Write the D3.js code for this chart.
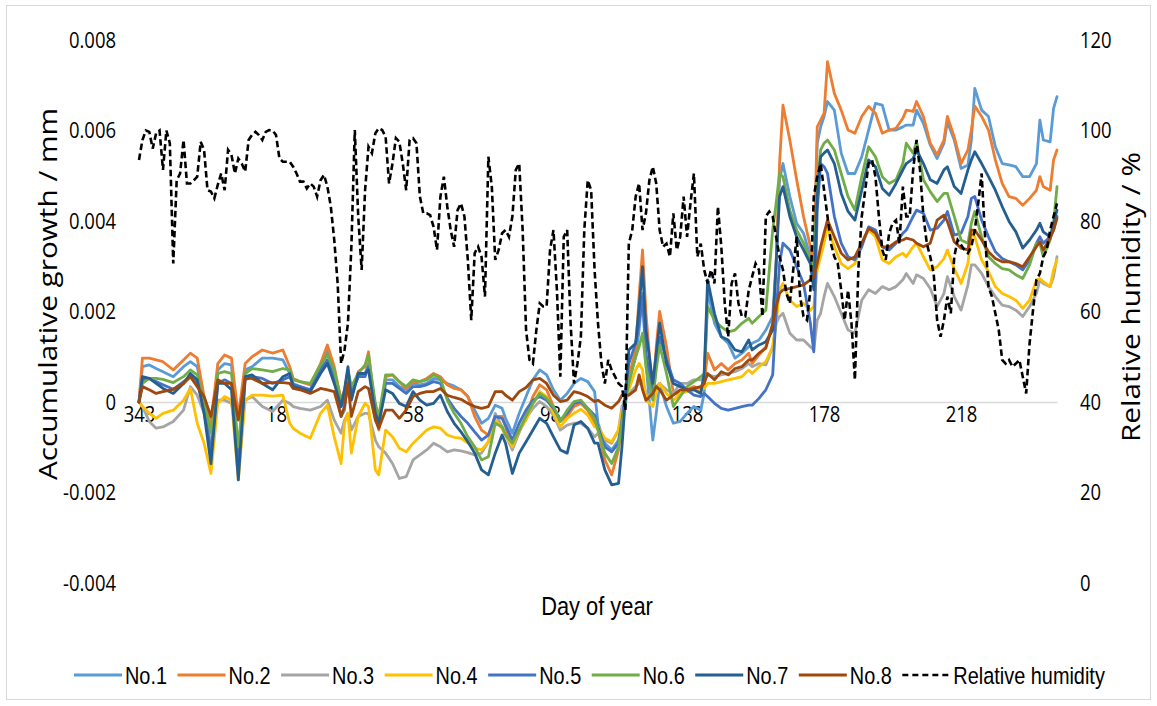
<!DOCTYPE html>
<html>
<head>
<meta charset="utf-8">
<script src="https://cdn.jsdelivr.net/npm/d3@7"></script>
<style>
  html, body { margin: 0; padding: 0; background: #fff; }
  svg { display: block; }
</style>
</head>
<body>
<div id="chart"></div>
<script>
// day of year of each growth reading (the record starts on day 343 and runs into the next year)
const days = [343, 344, 346, 348, 350, 353, 356, 358, 360, 362, 364, 1, 3, 5, 7, 9, 11, 14, 17, 20,
  22, 23, 25, 28, 31, 33, 35, 37, 38, 39, 40, 42, 44, 45, 47, 48, 50, 52, 54, 56, 58, 60, 62, 64, 66,
  68, 70, 72, 74, 76, 78, 80, 82, 84, 85, 87, 89, 91, 93, 95, 97, 99, 101, 103, 105, 107, 109, 111,
  112, 114, 116, 118, 119, 121, 123, 124, 125, 126, 128, 129, 130, 132, 134, 136, 138, 140, 142, 143, 144, 146, 148, 150, 152, 154, 156,
  157, 159, 161, 163, 164, 165, 166, 168, 170, 172, 174, 175, 176, 177, 178, 179, 181, 183, 185, 187, 189, 191, 193, 195, 197, 199, 201,
  202, 204, 205, 207, 209, 211, 213, 214, 216, 218, 220, 221, 222, 224, 226, 228, 230, 232, 234, 236, 238, 240, 241, 242, 244, 245, 246];

const no1 = [0, 0.00078, 0.00082, 0.00074, 0.00067, 0.00056, 0.00078, 0.00089, 0.00078, 0.00004, -0.00106, 0.00071, 0.00085, 0.00082, -0.00121, 0.00071, 0.00078, 0.00097, 0.00097, 0.00093,
  0.00063, 0.00041, 0.00034, 0.00027, 0.00078, 0.00115, 0.00056, -0.00032, -0.00018, 0.00049, 0.00019, 0.00056, 0.00063, 0.00085, -0.00025, -0.00047, 0.00049, 0.00049, 0.00034, 0.00027, 0.00041, 0.00038, 0.00041, 0.00052, 0.00049,
  0.00041, 0.00035, 0.00027, 0.00012, -0.00018, -0.00047, -0.00036, -0.00007, -0.00014, -0.00036, -0.00069, -0.00025, 0.00012, 0.00049, 0.00071, 0.00060, 0.00027, 0.00004, 0.00019, 0.00041, 0.00052, 0.00045, 0.00023,
  -0.00047, -0.00091, -0.00106, -0.00084, -0.00040, 0.00049, 0.00100, 0.00159, 0.00240, 0.00085, -0.00084, -0.00025, 0.00041, -0.00010, -0.00047, -0.00043, -0.00025, -0.00010, -0.00018, 0.00019, 0.00248, 0.00174, 0.00144, 0.00130, 0.00097, 0.00108, 0.00122,
  0.00130, 0.00137, 0.00159, 0.00189, 0.00306, 0.00491, 0.00527, 0.00454, 0.00395, 0.00373, 0.00321, 0.00288, 0.00572, 0.00608, 0.00631, 0.00664, 0.00645, 0.00550, 0.00505, 0.00505, 0.00542, 0.00601, 0.00660, 0.00656, 0.00601, 0.00601, 0.00608,
  0.00612, 0.00612, 0.00645, 0.00616, 0.00568, 0.00538, 0.00572, 0.00619, 0.00579, 0.00516, 0.00524, 0.00579, 0.00693, 0.00645, 0.00631, 0.00564, 0.00527, 0.00524, 0.00520, 0.00498, 0.00498, 0.00527, 0.00623, 0.00579, 0.00575, 0.00649, 0.00675];

const no2 = [0, 0.00097, 0.00097, 0.00093, 0.00089, 0.00071, 0.00093, 0.00108, 0.00097, 0.00012, -0.00047, 0.00085, 0.00104, 0.00097, -0.00032, 0.00085, 0.00100, 0.00115, 0.00108, 0.00115,
  0.00078, 0.00052, 0.00045, 0.00038, 0.00085, 0.00126, 0.00078, 0.00004, 0.00027, 0.00071, 0.00019, 0.00067, 0.00078, 0.00111, -0.00025, -0.00062, 0.00056, 0.00060, 0.00045, 0.00030, 0.00045, 0.00045, 0.00052, 0.00063, 0.00056,
  0.00038, 0.00030, 0.00027, 0.00012, -0.00032, -0.00062, -0.00073, -0.00032, -0.00032, -0.00055, -0.00102, -0.00066, -0.00032, 0.00012, 0.00038, 0.00027, -0.00010, -0.00043, -0.00032, -0.00010, -0.00003, -0.00018, -0.00047,
  -0.00062, -0.00128, -0.00161, -0.00106, -0.00047, 0.00056, 0.00115, 0.00233, 0.00336, 0.00196, 0.00012, 0.00122, 0.00200, 0.00122, 0.00019, 0.00019, 0.00027, 0.00034, 0.00027, 0.00041, 0.00108, 0.00071, 0.00085, 0.00071, 0.00085, 0.00093, 0.00108,
  0.00085, 0.00104, 0.00122, 0.00166, 0.00306, 0.00527, 0.00656, 0.00579, 0.00491, 0.00410, 0.00343, 0.00306, 0.00608, 0.00623, 0.00638, 0.00752, 0.00682, 0.00645, 0.00601, 0.00594, 0.00631, 0.00653, 0.00638, 0.00594, 0.00601, 0.00605, 0.00627,
  0.00645, 0.00642, 0.00664, 0.00631, 0.00572, 0.00546, 0.00579, 0.00631, 0.00586, 0.00527, 0.00557, 0.00601, 0.00654, 0.00631, 0.00601, 0.00535, 0.00483, 0.00454, 0.00450, 0.00435, 0.00450, 0.00468, 0.00498, 0.00476, 0.00468, 0.00535, 0.00557];

const no3 = [0, -0.00010, -0.00043, -0.00058, -0.00055, -0.00043, -0.00018, 0.00034, 0.00015, -0.00025, -0.00099, 0.00004, 0.00004, -0.00003, -0.00106, 0.00004, 0.00012, -0.00010, -0.00021, 0.00004,
  -0.00003, -0.00010, -0.00014, -0.00018, -0.00010, 0.00004, -0.00040, -0.00069, -0.00040, -0.00025, -0.00062, -0.00032, -0.00025, -0.00025, -0.00084, -0.00099, -0.00113, -0.00136, -0.00169, -0.00165, -0.00128, -0.00117, -0.00106, -0.00091, -0.00099,
  -0.00110, -0.00106, -0.00108, -0.00112, -0.00117, -0.00113, -0.00088, -0.00025, -0.00055, -0.00073, -0.00106, -0.00066, -0.00036, -0.00014, 0.00001, -0.00010, -0.00029, -0.00062, -0.00051, -0.00047, -0.00047, -0.00058, -0.00077,
  -0.00069, -0.00084, -0.00091, -0.00062, -0.00010, 0.00019, 0.00034, 0.00041, 0.00049, 0.00019, 0.00012, 0.00034, 0.00041, 0.00027, 0.00019, 0.00041, 0.00041, 0.00049, 0.00049, 0.00052, 0.00060, 0.00056, 0.00060, 0.00063, 0.00067, 0.00074, 0.00085,
  0.00078, 0.00085, 0.00082, 0.00122, 0.00174, 0.00189, 0.00196, 0.00152, 0.00137, 0.00137, 0.00122, 0.00115, 0.00181, 0.00196, 0.00233, 0.00262, 0.00233, 0.00196, 0.00159, 0.00152, 0.00225, 0.00248, 0.00240, 0.00255, 0.00248, 0.00255, 0.00270,
  0.00284, 0.00262, 0.00281, 0.00273, 0.00251, 0.00211, 0.00240, 0.00277, 0.00233, 0.00203, 0.00259, 0.00303, 0.00303, 0.00284, 0.00255, 0.00233, 0.00214, 0.00211, 0.00203, 0.00189, 0.00211, 0.00240, 0.00270, 0.00262, 0.00255, 0.00277, 0.00321];

const no4 = [0, -0.00010, -0.00025, -0.00036, -0.00025, -0.00018, 0.00004, 0.00030, -0.00047, -0.00091, -0.00158, -0.00003, 0.00012, 0.00004, -0.00172, 0.00004, 0.00015, 0.00015, 0.00013, 0.00015,
  -0.00047, -0.00058, -0.00069, -0.00080, -0.00025, -0.00007, -0.00077, -0.00136, -0.00047, -0.00025, -0.00113, -0.00032, -0.00003, -0.00010, -0.00150, -0.00161, -0.00062, -0.00077, -0.00102, -0.00110, -0.00091, -0.00077, -0.00062, -0.00055, -0.00058,
  -0.00073, -0.00078, -0.00080, -0.00091, -0.00102, -0.00106, -0.00088, -0.00040, -0.00058, -0.00073, -0.00099, -0.00062, -0.00040, -0.00003, 0.00023, 0.00012, -0.00025, -0.00055, -0.00036, -0.00025, -0.00016, -0.00029, -0.00055,
  -0.00055, -0.00080, -0.00088, -0.00062, -0.00018, 0.00027, 0.00071, 0.00085, 0.00071, 0.00004, -0.00010, 0.00019, 0.00041, 0.00019, 0.00004, 0.00019, 0.00023, 0.00027, 0.00027, 0.00030, 0.00041, 0.00041, 0.00045, 0.00049, 0.00052, 0.00056, 0.00071,
  0.00063, 0.00078, 0.00089, 0.00122, 0.00174, 0.00248, 0.00262, 0.00225, 0.00211, 0.00218, 0.00203, 0.00211, 0.00292, 0.00321, 0.00351, 0.00387, 0.00343, 0.00306, 0.00295, 0.00306, 0.00351, 0.00380, 0.00365, 0.00314, 0.00306, 0.00321, 0.00329,
  0.00321, 0.00343, 0.00351, 0.00321, 0.00292, 0.00299, 0.00317, 0.00336, 0.00295, 0.00262, 0.00306, 0.00373, 0.00365, 0.00314, 0.00288, 0.00255, 0.00240, 0.00233, 0.00225, 0.00207, 0.00225, 0.00270, 0.00273, 0.00266, 0.00255, 0.00292, 0.00314];

const no5 = [0, 0.00049, 0.00052, 0.00045, 0.00038, 0.00028, 0.00045, 0.00056, 0.00041, -0.00010, -0.00113, 0.00041, 0.00049, 0.00041, -0.00136, 0.00049, 0.00056, 0.00052, 0.00041, 0.00049,
  0.00056, 0.00038, 0.00034, 0.00027, 0.00071, 0.00093, 0.00049, -0.00010, 0.00004, 0.00063, 0.00019, 0.00056, 0.00056, 0.00078, -0.00010, -0.00040, 0.00041, 0.00041, 0.00030, 0.00019, 0.00034, 0.00034, 0.00038, 0.00045, 0.00041,
  0.00008, -0.00014, -0.00032, -0.00047, -0.00066, -0.00084, -0.00073, -0.00032, -0.00036, -0.00051, -0.00084, -0.00047, -0.00018, 0.00004, 0.00012, 0.00004, -0.00014, -0.00040, -0.00025, -0.00003, 0.00001, -0.00014, -0.00029,
  -0.00055, -0.00099, -0.00110, -0.00091, -0.00040, 0.00085, 0.00130, 0.00174, 0.00233, 0.00108, 0.00012, 0.00085, 0.00144, 0.00093, 0.00049, 0.00041, 0.00027, 0.00015, 0.00012, 0.00019, 0.00012, -0.00003, -0.00014, -0.00018, -0.00014, -0.00010, -0.00007,
  -0.00007, 0.00008, 0.00027, 0.00060, 0.00196, 0.00306, 0.00351, 0.00336, 0.00299, 0.00262, 0.00174, 0.00111, 0.00424, 0.00527, 0.00520, 0.00505, 0.00410, 0.00351, 0.00321, 0.00314, 0.00343, 0.00387, 0.00380, 0.00343, 0.00336, 0.00351, 0.00373,
  0.00380, 0.00410, 0.00424, 0.00417, 0.00380, 0.00384, 0.00402, 0.00421, 0.00369, 0.00373, 0.00410, 0.00450, 0.00454, 0.00402, 0.00365, 0.00332, 0.00317, 0.00310, 0.00303, 0.00292, 0.00314, 0.00351, 0.00365, 0.00351, 0.00365, 0.00380, 0.00410];

const no6 = [0, 0.00041, 0.00052, 0.00052, 0.00050, 0.00043, 0.00056, 0.00071, 0.00060, 0.00004, -0.00069, 0.00063, 0.00067, 0.00063, -0.00099, 0.00063, 0.00074, 0.00071, 0.00067, 0.00074,
  0.00071, 0.00049, 0.00045, 0.00041, 0.00082, 0.00104, 0.00071, 0.00004, 0.00019, 0.00071, 0.00034, 0.00063, 0.00082, 0.00104, -0.00003, -0.00032, 0.00060, 0.00060, 0.00045, 0.00034, 0.00049, 0.00045, 0.00049, 0.00060, 0.00052,
  0.00004, -0.00025, -0.00047, -0.00077, -0.00099, -0.00128, -0.00121, -0.00047, -0.00055, -0.00073, -0.00091, -0.00062, -0.00032, -0.00003, 0.00019, 0.00008, -0.00010, -0.00043, -0.00018, 0.00001, 0.00004, -0.00014, -0.00036,
  -0.00062, -0.00113, -0.00136, -0.00099, -0.00047, 0.00041, 0.00100, 0.00122, 0.00152, 0.00078, 0.00004, 0.00071, 0.00126, 0.00063, -0.00010, 0.00012, 0.00034, 0.00045, 0.00056, 0.00063, 0.00211, 0.00181, 0.00166, 0.00155, 0.00159, 0.00174, 0.00185,
  0.00174, 0.00189, 0.00203, 0.00380, 0.00439, 0.00505, 0.00498, 0.00424, 0.00380, 0.00351, 0.00314, 0.00292, 0.00476, 0.00557, 0.00572, 0.00579, 0.00557, 0.00505, 0.00454, 0.00424, 0.00498, 0.00564, 0.00542, 0.00498, 0.00483, 0.00491, 0.00527,
  0.00572, 0.00550, 0.00575, 0.00491, 0.00465, 0.00443, 0.00461, 0.00461, 0.00410, 0.00358, 0.00351, 0.00395, 0.00421, 0.00365, 0.00321, 0.00306, 0.00295, 0.00292, 0.00281, 0.00273, 0.00303, 0.00351, 0.00351, 0.00321, 0.00358, 0.00395, 0.00476];

const no7 = [0, 0.00056, 0.00052, 0.00041, 0.00030, 0.00019, 0.00041, 0.00063, 0.00049, -0.00025, -0.00136, 0.00041, 0.00041, 0.00027, -0.00172, 0.00056, 0.00060, 0.00041, 0.00027, 0.00056,
  0.00063, 0.00034, 0.00030, 0.00023, 0.00063, 0.00085, 0.00041, -0.00010, 0.00027, 0.00078, 0.00004, 0.00063, 0.00063, 0.00071, -0.00025, -0.00047, 0.00027, 0.00019, -0.00003, -0.00010, 0.00023, 0.00004, -0.00007, -0.00003, 0.00015,
  -0.00021, -0.00047, -0.00066, -0.00088, -0.00113, -0.00150, -0.00161, -0.00113, -0.00073, -0.00091, -0.00158, -0.00113, -0.00088, -0.00062, -0.00036, -0.00047, -0.00077, -0.00106, -0.00113, -0.00051, -0.00043, -0.00058, -0.00091,
  -0.00091, -0.00150, -0.00183, -0.00180, -0.00099, 0.00115, 0.00130, 0.00211, 0.00299, 0.00159, 0.00041, 0.00108, 0.00174, 0.00085, 0.00041, 0.00034, 0.00027, 0.00027, 0.00019, 0.00063, 0.00270, 0.00196, 0.00144, 0.00137, 0.00115, 0.00111, 0.00137,
  0.00115, 0.00126, 0.00133, 0.00159, 0.00306, 0.00454, 0.00476, 0.00410, 0.00365, 0.00336, 0.00306, 0.00248, 0.00454, 0.00542, 0.00550, 0.00557, 0.00527, 0.00461, 0.00421, 0.00402, 0.00468, 0.00535, 0.00520, 0.00472, 0.00457, 0.00483, 0.00513,
  0.00527, 0.00538, 0.00557, 0.00527, 0.00491, 0.00483, 0.00513, 0.00520, 0.00476, 0.00461, 0.00513, 0.00535, 0.00553, 0.00527, 0.00498, 0.00468, 0.00432, 0.00399, 0.00376, 0.00340, 0.00358, 0.00380, 0.00395, 0.00376, 0.00365, 0.00395, 0.00424];

const no8 = [0, 0.00034, 0.00027, 0.00019, 0.00023, 0.00028, 0.00041, 0.00056, 0.00034, 0.00012, -0.00032, 0.00049, 0.00041, 0.00041, -0.00040, 0.00052, 0.00052, 0.00041, 0.00043, 0.00043,
  0.00041, 0.00030, 0.00027, 0.00019, 0.00030, 0.00027, 0.00023, -0.00032, -0.00010, 0.00041, -0.00032, 0.00023, 0.00034, 0.00030, -0.00040, -0.00058, -0.00018, -0.00018, -0.00036, -0.00018, 0.00012, 0.00019, 0.00023, 0.00023, 0.00030,
  0.00015, 0.00010, 0.00006, -0.00003, -0.00010, -0.00014, -0.00010, 0.00023, 0.00023, 0.00015, 0.00004, 0.00023, 0.00032, 0.00049, 0.00052, 0.00041, 0.00015, 0.00001, 0.00004, 0.00023, 0.00019, 0.00012, 0.00001,
  0.00004, -0.00007, -0.00014, 0.00001, 0.00015, 0.00015, 0.00027, 0.00060, 0.00027, 0.00004, 0.00019, 0.00034, 0.00027, 0.00004, 0.00015, 0.00027, 0.00027, 0.00030, 0.00034, 0.00041, 0.00063, 0.00049, 0.00067, 0.00060, 0.00074, 0.00078, 0.00093,
  0.00093, 0.00108, 0.00119, 0.00174, 0.00211, 0.00240, 0.00248, 0.00251, 0.00255, 0.00259, 0.00270, 0.00277, 0.00306, 0.00343, 0.00373, 0.00402, 0.00365, 0.00329, 0.00314, 0.00321, 0.00351, 0.00384, 0.00373, 0.00343, 0.00343, 0.00354, 0.00358,
  0.00362, 0.00358, 0.00351, 0.00343, 0.00351, 0.00402, 0.00413, 0.00399, 0.00354, 0.00340, 0.00336, 0.00380, 0.00380, 0.00358, 0.00332, 0.00317, 0.00310, 0.00310, 0.00306, 0.00299, 0.00321, 0.00343, 0.00354, 0.00336, 0.00362, 0.00380, 0.00406];

// relative humidity (%), one reading per day from day 343 onwards
const rhStartDay = 343;
const humidity = [93.5, 97.9, 100, 99.7, 96, 99.4, 100, 91.3, 100, 97.2, 70.6, 89, 90.5, 97.9, 88.3, 88.3, 89, 89.8, 97.5, 95.7, 86.8, 86.5, 85, 88, 90.5, 86.8, 95.7, 94.6, 90.5, 93.8, 92.7, 90.9, 97.9, 99, 99.7, 99, 97.9, 99.7, 100.1, 100, 99, 93.8, 93.1, 93.1,
  93.1, 92, 90.5, 88.7, 88.7, 87.2, 88.3, 87.6, 85.4, 89, 90.2, 87.6, 83.2, 75.8, 66.2, 48.5, 51.5, 57.4, 74.3, 100.1, 81, 69.2, 86.8, 96.4, 95, 99.4, 100.5, 100.1, 98.6, 88.3, 92.7, 98.3, 97.5, 92.7, 86.8, 97.9, 98.3, 97.2, 85.4, 81.7, 81.7, 81.3, 78.7, 73.6, 85.4,
  89.8, 83.2, 78, 74.3, 82.4, 83.9, 81, 71.4, 58.1, 72.9, 74.3, 72.1, 63.3, 94.2, 87.6, 71.4, 73.6, 77.3, 78, 76.5, 81, 91.3, 92.7, 78, 55.9, 49.3, 48.5, 55.9, 61.8, 61.1, 61.1, 73.6, 78, 64.8, 45.6, 76.5, 78, 57.4, 44.1, 48.5, 54.4, 78, 89, 86.8, 69.2,
  57.4, 48.5, 44.1, 49.3, 47, 45.6, 44.1, 43.4, 38.2, 75, 78, 85.4, 88.3, 78, 81.7, 89, 92, 88.3, 78, 74.3, 75, 72.1, 81.7, 73.6, 76.5, 85.4, 76.5, 83.9, 90.5, 72.1, 75, 69.2, 66.2, 69.2, 66.2, 83.2, 74.3, 61.8, 54.4, 66.2, 68.4, 61.8, 58.9, 58.9, 64.7,
  67.7, 70.6, 69.2, 58.9, 81, 82.1, 81, 76.5, 72.1, 69.2, 64, 61.8, 69.2, 76.5, 63.3, 58.9, 58.1, 64.7, 85.4, 89.8, 92.7, 86.8, 81, 75, 72.1, 70.6, 64.7, 58.1, 64.7, 57.4, 44.9, 69.2, 81, 86.8, 92.7, 93.5, 89.8, 81, 73.6, 71.4, 77.3, 79.5, 80.2, 75, 87.6, 81,
  81, 91.3, 97.9, 91.3, 81, 75, 72.1, 68.4, 58.1, 54.4, 58.1, 63.3, 59.6, 72.1, 75.8, 74.7, 73.6, 72.9, 74.3, 78, 83.9, 90.5, 76.5, 65.5, 63.3, 59.6, 55.9, 49.3, 48.5, 49.3, 47.8, 48.5, 49.3, 45.6, 41.9, 53, 60.3, 67, 68.4, 72.1, 73.6, 78, 81, 83.9];

const seriesNames = ['No.1', 'No.2', 'No.3', 'No.4', 'No.5', 'No.6', 'No.7', 'No.8'];
const seriesValues = [no1, no2, no3, no4, no5, no6, no7, no8];
const seriesColors = ['#5b9bd5', '#ed7d31', '#a5a5a5', '#ffc000', '#4472c4', '#70ad47', '#255e91', '#9e480e'];
const xTickDays = [343, 18, 58, 98, 138, 178, 218];
const leftTicks = [-0.004, -0.002, 0, 0.002, 0.004, 0.006, 0.008];
const rightTicks = [0, 20, 40, 60, 80, 100, 120];

// sequential position of a day of year in the record
function seq(day) {
    return day >= rhStartDay ? day - rhStartDay : day + (365 - rhStartDay);
}

const W = 1157, H = 706;
const SX = 0.84; // the picture is slightly squeezed horizontally

const svg = d3.select('#chart').append('svg')
    .attr('width', W)
    .attr('height', H);

svg.append('rect').attr('width', W).attr('height', H).attr('fill', '#fff');
svg.append('rect')
    .attr('x', 6.5).attr('y', 5.5)
    .attr('width', 1144).attr('height', 694)
    .attr('fill', 'none')
    .attr('stroke', '#d9d9d9');

const x = d3.scaleLinear().domain([0, 268]).range([139, 1057]);
const yL = d3.scaleLinear().domain([-0.004, 0.008]).range([583, 40]);
const yR = d3.scaleLinear().domain([0, 120]).range([583, 40]);

const tickFont = "'Open Sans', 'DejaVu Sans', sans-serif";
const arialFont = "'Liberation Sans', Arial, sans-serif";

// x axis on the zero line
const xAxis = d3.axisBottom(x)
    .tickValues(xTickDays.map(seq))
    .tickFormat((d, i) => xTickDays[i])
    .tickSize(0)
    .tickSizeOuter(0)
    .tickPadding(4);
const gx = svg.append('g')
    .attr('transform', `translate(0,${yL(0)})`)
    .call(xAxis);
gx.select('.domain').attr('stroke', '#d9d9d9').attr('stroke-width', 1.5);
gx.selectAll('text')
    .attr('fill', '#000')
    .style('font-family', tickFont)
    .style('font-size', '22px')
    .attr('transform', `scale(${SX},1)`);

const gl = svg.append('g')
    .attr('transform', 'translate(116,0)')
    .call(d3.axisLeft(yL).tickValues(leftTicks)
        .tickFormat(d => d === 0 ? '0' : d.toFixed(3))
        .tickSize(0).tickPadding(0));
gl.select('.domain').remove();
gl.selectAll('text')
    .attr('fill', '#000')
    .style('font-family', tickFont)
    .style('font-size', '22px')
    .attr('transform', `scale(${SX},1)`);

const gr = svg.append('g')
    .attr('transform', 'translate(1080,0)')
    .call(d3.axisRight(yR).tickValues(rightTicks)
        .tickSize(0).tickPadding(0));
gr.select('.domain').remove();
gr.selectAll('text')
    .attr('fill', '#000')
    .style('font-family', tickFont)
    .style('font-size', '22px')
    .attr('transform', `scale(${SX},1)`);

// axis titles
svg.append('text')
    .text('Accumulative growth / mm')
    .attr('transform', 'translate(47,294) rotate(-90) scale(1.19,1)')
    .attr('text-anchor', 'middle')
    .attr('dominant-baseline', 'central')
    .style('font-family', tickFont)
    .style('font-size', '25px')
    .attr('fill', '#000');

svg.append('text')
    .text('Relative humidity / %')
    .attr('transform', 'translate(1130,297) rotate(-90) scale(1.19,1)')
    .attr('text-anchor', 'middle')
    .attr('dominant-baseline', 'central')
    .style('font-family', tickFont)
    .style('font-size', '25px')
    .attr('fill', '#000');

svg.append('text')
    .text('Day of year')
    .attr('transform', `translate(597,615) scale(${SX},1)`)
    .attr('text-anchor', 'middle')
    .style('font-family', arialFont)
    .style('font-size', '26px')
    .attr('fill', '#000');

// growth lines
const growthLine = d3.line()
    .x((d, i) => x(seq(days[i])))
    .y(d => yL(d));

const plot = svg.append('g');
seriesValues.forEach((vals, k) => {
    plot.append('path')
        .datum(vals)
        .attr('d', growthLine)
        .attr('fill', 'none')
        .attr('stroke', seriesColors[k])
        .attr('stroke-width', 2.8)
        .attr('stroke-linejoin', 'round')
        .attr('stroke-linecap', 'round');
});

// humidity on the secondary axis
const rhLine = d3.line()
    .x((d, i) => x(i))
    .y(d => yR(d));
plot.append('path')
    .datum(humidity)
    .attr('d', rhLine)
    .attr('fill', 'none')
    .attr('stroke', '#000')
    .attr('stroke-width', 2.6)
    .attr('stroke-dasharray', '6.5,3.5');

// legend
const legend = svg.append('g');
let lx = 74;
const ly = 675;
const legendItems = seriesNames.map((n, k) => ({name: n, color: seriesColors[k], dash: null}))
    .concat([{name: 'Relative humidity', color: '#000', dash: '6,4'}]);
legendItems.forEach(item => {
    legend.append('line')
        .attr('x1', lx).attr('x2', lx + 48)
        .attr('y1', ly).attr('y2', ly)
        .attr('stroke', item.color)
        .attr('stroke-width', item.dash ? 2.6 : 3)
        .attr('stroke-dasharray', item.dash);
    const t = legend.append('text')
        .text(item.name)
        .attr('transform', `translate(${lx + 51},${ly + 9}) scale(${SX},1)`)
        .style('font-family', arialFont)
        .style('font-size', '23.7px')
        .attr('fill', '#000');
    lx += 51 + t.node().getComputedTextLength() * SX + 10.5;
});
</script>
</body>
</html>
